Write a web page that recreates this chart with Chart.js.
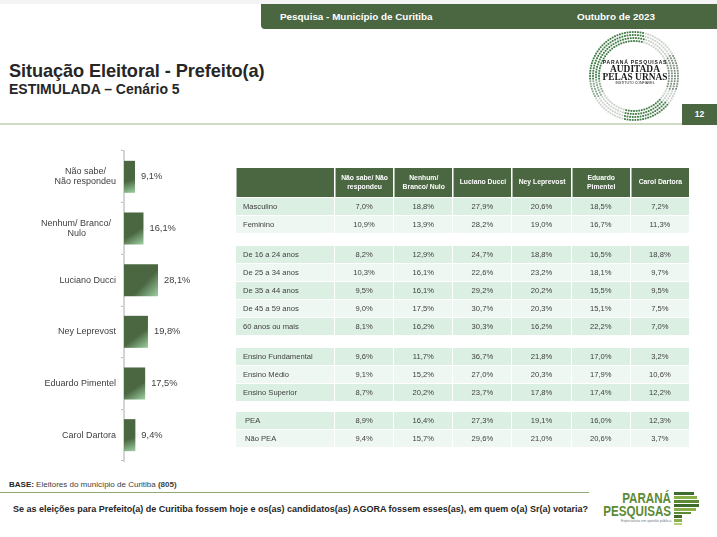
<!DOCTYPE html>
<html lang="pt-BR">
<head>
<meta charset="utf-8">
<title>Situação Eleitoral - Prefeito(a)</title>
<script src="https://cdn.jsdelivr.net/npm/chart.js@4"></script>
<style>
html,body{margin:0;padding:0;background:#fff;}
body{position:relative;width:717px;height:537px;overflow:hidden;font-family:"Liberation Sans",Arial,sans-serif;color:#262626;}
.abs{position:absolute;white-space:nowrap;}
#dataTable{position:absolute;left:235px;top:167px;border-collapse:separate;border-spacing:1px;table-layout:fixed;width:455px;font-size:7.6px;color:#404040;}
#dataTable th{background:#4a6741;color:#fff;font-weight:bold;font-size:6.8px;height:29px;padding:0;line-height:8.5px;border-left:1px solid #a9b8a4;}
#dataTable td{height:17px;padding:0;text-align:center;}
#dataTable td.lab{text-align:left;padding-left:7px;}
#dataTable tr.dark td{background:#dcefe3;}
#dataTable tr.light td{background:#eef7f2;}
#dataTable tr.gap td{background:none;}
.marca{transform:scaleX(.8);transform-origin:right center;}
</style>
</head>
<body>
<div class="abs" style="left:0;top:0;width:717px;height:4px;background:#f4f4f4"></div>
<div class="abs" style="left:261px;top:4px;width:456px;height:25px;background:#4a6741;border-bottom-left-radius:4px"></div>
<div class="abs" style="left:280px;top:11px;font-size:9.9px;font-weight:bold;color:#fff">Pesquisa - Município de Curitiba</div>
<div class="abs" style="left:577px;top:11px;font-size:9.9px;font-weight:bold;color:#fff">Outubro de 2023</div>

<div class="abs" style="left:9px;top:61px;font-size:18.2px;font-weight:bold;letter-spacing:-.1px">Situação Eleitoral - Prefeito(a)</div>
<div class="abs" style="left:9px;top:81px;font-size:14px;font-weight:bold">ESTIMULADA – Cenário 5</div>
<div class="abs" style="left:0;top:123px;width:682px;height:2px;background:#cfdcc4"></div>
<div class="abs" style="left:682px;top:104px;width:35px;height:21px;background:#4a6741;color:#fff;font-size:8.5px;font-weight:bold;text-align:center;line-height:21px">12</div>

<canvas id="sealDots" class="abs" width="100" height="100" style="left:584px;top:26px"></canvas>
<div class="abs" style="left:585px;top:59px;width:100px;text-align:center;line-height:8px;color:#1a1a1a">
  <div style="font-size:5px;font-weight:bold;letter-spacing:.8px;line-height:6px">PARANÁ PESQUISAS</div>
  <div style="font-family:'Liberation Serif',serif;font-size:9.4px;font-weight:bold">AUDITADA</div>
  <div style="font-family:'Liberation Serif',serif;font-size:9.4px;font-weight:bold">PELAS URNAS</div>
  <div style="font-size:3.5px;line-height:5px">INSTITUTO CONFIÁVEL</div>
</div>

<canvas id="votosChart" class="abs" style="left:0;top:140px"></canvas>
<table id="dataTable"></table>

<div class="abs" style="left:9px;top:480px;font-size:8px;color:#404040"><b style="color:#262626">BASE:</b> Eleitores do município de Curitiba <b>(805)</b></div>
<div class="abs" style="left:0;top:492px;width:589px;height:1px;background:#8fa878"></div>
<div class="abs" style="left:13px;top:503.5px;font-size:9.03px;font-weight:bold">Se as eleições para Prefeito(a) de Curitiba fossem hoje e os(as) candidatos(as) AGORA fossem esses(as), em quem o(a) Sr(a) votaria?</div>

<div class="abs marca" style="left:581px;top:491px;width:90px;text-align:right;font-size:14.5px;font-weight:bold;color:#5d8a35;line-height:14px">PARANÁ</div>
<div class="abs marca" style="left:581px;top:505px;width:90px;text-align:right;font-size:14.5px;font-weight:bold;color:#5d8a35;line-height:13px">PESQUISAS</div>
<div class="abs" style="left:621px;top:519px;width:50px;text-align:right;font-size:3.6px;color:#777">Especialista em opinião pública.</div>
<svg class="abs" style="left:674px;top:491px" width="26" height="36">
  <rect x="0" y="1" width="20" height="3" fill="#3f6b2c"/>
  <rect x="0" y="5" width="23" height="3" fill="#8ab04a"/>
  <rect x="0" y="9" width="25" height="3" fill="#5d8a35"/>
  <rect x="0" y="13" width="25" height="3" fill="#3f6b2c"/>
  <rect x="0" y="17" width="22" height="3" fill="#8ab04a"/>
  <rect x="0" y="21" width="17" height="2" fill="#5d8a35"/>
  <rect x="0" y="24" width="8" height="3" fill="#3f6b2c"/>
  <rect x="0" y="28" width="8" height="3" fill="#8ab04a"/>
  <rect x="0" y="32" width="8" height="2" fill="#b5cc7a"/>
</svg>

<script>
// Chart data
const categorias = [
  ["Não sabe/\u00a0\u00a0\u00a0\u00a0", "Não respondeu"],
  ["Nenhum/ Branco/\u00a0\u00a0", "Nulo\u00a0\u00a0\u00a0\u00a0\u00a0\u00a0\u00a0\u00a0\u00a0\u00a0\u00a0\u00a0"],
  "Luciano Ducci",
  "Ney Leprevost",
  "Eduardo Pimentel",
  "Carol Dartora"
];
const votos = [9.1, 16.1, 28.1, 19.8, 17.5, 9.4];

// Table data
const colunas = ["Não sabe/ Não respondeu", "Nenhum/ Branco/\u00a0Nulo", "Luciano Ducci", "Ney Leprevost", "Eduardo Pimentel", "Carol Dartora"];
const masculino = ["7,0%", "18,8%", "27,9%", "20,6%", "18,5%", "7,2%"];
const feminino = ["10,9%", "13,9%", "28,2%", "19,0%", "16,7%", "11,3%"];
const de16a24 = ["8,2%", "12,9%", "24,7%", "18,8%", "16,5%", "18,8%"];
const de25a34 = ["10,3%", "16,1%", "22,6%", "23,2%", "18,1%", "9,7%"];
const de35a44 = ["9,5%", "16,1%", "29,2%", "20,2%", "15,5%", "9,5%"];
const de45a59 = ["9,0%", "17,5%", "30,7%", "20,3%", "15,1%", "7,5%"];
const mais60 = ["8,1%", "16,2%", "30,3%", "16,2%", "22,2%", "7,0%"];
const fundamental = ["9,6%", "11,7%", "36,7%", "21,8%", "17,0%", "3,2%"];
const medio = ["9,1%", "15,2%", "27,0%", "20,3%", "17,9%", "10,6%"];
const superior = ["8,7%", "20,2%", "23,7%", "17,8%", "17,4%", "12,2%"];
const pea = ["8,9%", "16,4%", "27,3%", "19,1%", "16,0%", "12,3%"];
const naoPea = ["9,4%", "15,7%", "29,6%", "21,0%", "20,6%", "3,7%"];

const grupos = [
  [["Masculino", masculino], ["Feminino", feminino]],
  [["De 16 a 24 anos", de16a24], ["De 25 a 34 anos", de25a34], ["De 35 a 44 anos", de35a44], ["De 45 a 59 anos", de45a59], ["60 anos ou mais", mais60]],
  [["Ensino Fundamental", fundamental], ["Ensino Médio", medio], ["Ensino Superior", superior]],
  [["PEA", pea], ["Não PEA", naoPea]]
];

// side table
let html = '<colgroup><col style="width:98px">' + colunas.map(() => '<col>').join('') + '</colgroup>';
html += '<tr><th></th>' + colunas.map(c => '<th>' + c + '</th>').join('') + '</tr>';
grupos.forEach((grupo, g) => {
  if (g > 0) html += '<tr class="gap"><td colspan="7" style="height:' + [0, 11, 11, 9][g] + 'px"></td></tr>';
  grupo.forEach((linha, i) => {
    html += '<tr class="' + (i % 2 ? 'light' : 'dark') + '"><td class="lab"' + (g == 3 ? ' style="padding-left:9px"' : '') + '>' + linha[0] + '</td>';
    html += linha[1].map(v => '<td>' + v + '</td>').join('') + '</tr>';
  });
});
document.getElementById('dataTable').innerHTML = html;

// percent labels at the end of each bar
const rotulos = {
  id: 'rotulos',
  afterDatasetsDraw(chart) {
    const c = chart.ctx;
    c.save();
    c.font = '9.3px "Liberation Sans"';
    c.fillStyle = '#404040';
    c.textBaseline = 'middle';
    chart.getDatasetMeta(0).data.forEach((bar, i) => {
      c.fillText(votos[i].toFixed(1).replace('.', ',') + '%', bar.x + 6, bar.y);
    });
    c.restore();
  }
};

const canvas = document.getElementById('votosChart');
canvas.width = 250;
canvas.height = 330;

new Chart(canvas.getContext('2d'), {
  type: 'bar',
  plugins: [rotulos],
  data: {
    labels: categorias,
    datasets: [{
      data: votos,
      barPercentage: 0.62,
      categoryPercentage: 1,
      backgroundColor: ctx => {
        const chart = ctx.chart;
        if (!chart.chartArea) return '#4a6741';
        const x0 = chart.scales.x.getPixelForValue(0);
        const x1 = chart.scales.x.getPixelForValue(votos[ctx.dataIndex]);
        const yc = chart.scales.y.getPixelForTick(ctx.dataIndex);
        const g = chart.ctx.createLinearGradient(x0, yc - 16, x1, yc + 16);
        g.addColorStop(0, '#4a6741');
        g.addColorStop(0.6, '#4a6741');
        g.addColorStop(1, '#9fd0a4');
        return g;
      }
    }]
  },
  options: {
    indexAxis: 'y',
    responsive: false,
    animation: false,
    layout: { padding: { top: 11, bottom: 9, right: 5 } },
    plugins: { legend: { display: false }, tooltip: { enabled: false } },
    scales: {
      x: { display: false, min: 0, max: 100 },
      y: {
        afterFit: s => { s.width = 124; s.paddingTop = 0; s.paddingBottom = 0; },
        grid: { drawOnChartArea: false, offset: true, tickLength: 3, color: '#bdbdbd' },
        border: { color: '#d4d4d4', width: 2 },
        ticks: {
          color: '#404040',
          padding: 5,
          font: { family: '"Liberation Sans"', size: 9, lineHeight: 1.15 }
        }
      }
    }
  }
});

// seal of the logo, only decoration
const sc = document.getElementById('sealDots').getContext('2d');
for (let ring = 0; ring < 4; ring++) {
  const r = 44 - ring * 3;
  const n = Math.round(r * 2.4);
  for (let k = 0; k < n; k++) {
    const a = k / n * 360;
    let cor = '#c9d0c9';
    if (a > 175 && a < 285) cor = '#3f7a45';
    if (a > 40 && a < 105) cor = '#3f7a45';
    if (a > 330 || a < 20) cor = '#7d8f80';
    if (a > 150 && a <= 175) cor = '#8aa58d';
    sc.fillStyle = cor;
    sc.fillRect(50 + r * Math.cos(a * Math.PI / 180) - 0.9, 50 + r * Math.sin(a * Math.PI / 180) - 0.9, 1.8, 1.8);
  }
}
</script>
</body>
</html>
